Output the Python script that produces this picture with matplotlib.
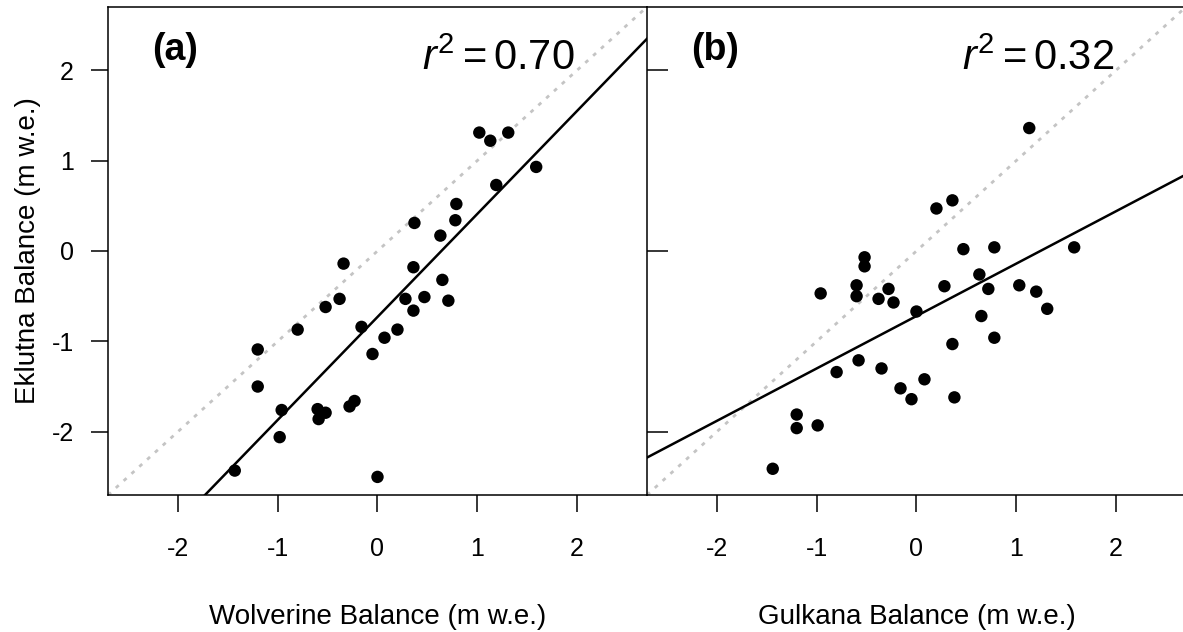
import matplotlib
matplotlib.use('Agg')
import matplotlib.pyplot as plt

plt.rcParams.update({
    'font.family': 'Liberation Sans',
    'mathtext.fontset': 'custom',
    'mathtext.rm': 'Liberation Sans',
    'mathtext.it': 'Liberation Sans:italic',
    'axes.linewidth': 1.1,
    'axes.unicode_minus': False,
})

# Panel (a): Wolverine vs Eklutna annual balance (m w.e.)
wolverine = [1.02, 1.13, 1.31, 1.59, 1.19, 0.79, 0.78, 0.37, 0.63, -0.34,
             0.36, 0.65, -0.38, -0.52, 0.28, 0.47, 0.71, 0.36, -0.80, -0.16,
             0.20, 0.07, -1.20, -0.05, -1.20, -0.96, -0.60, -0.59, -0.52, -0.28,
             -0.23, -0.98, -1.43, 0.00]
eklutna_a = [1.31, 1.22, 1.31, 0.93, 0.73, 0.52, 0.34, 0.31, 0.17, -0.14,
             -0.18, -0.32, -0.53, -0.62, -0.53, -0.51, -0.55, -0.66, -0.87, -0.84,
             -0.87, -0.96, -1.09, -1.14, -1.50, -1.76, -1.75, -1.86, -1.79, -1.72,
             -1.66, -2.06, -2.43, -2.50]

# Panel (b): Gulkana vs Eklutna annual balance (m w.e.)
gulkana = [1.13, 0.20, 0.36, 0.47, 0.78, 1.58, -0.52, -0.52, -0.96, -0.60,
           -0.60, -0.38, -0.28, -0.23, 0.00, 0.28, 0.63, 0.72, 1.03, 1.20,
           1.31, 0.65, 0.78, 0.36, -0.80, -0.58, -0.35, 0.08, -0.16, -0.05,
           0.38, -1.20, -1.20, -0.99, -1.44]
eklutna_b = [1.36, 0.47, 0.56, 0.02, 0.04, 0.04, -0.07, -0.17, -0.47, -0.38,
             -0.50, -0.53, -0.42, -0.57, -0.67, -0.39, -0.26, -0.42, -0.38, -0.45,
             -0.64, -0.72, -0.96, -1.03, -1.34, -1.21, -1.30, -1.42, -1.52, -1.64,
             -1.62, -1.81, -1.96, -1.93, -2.41]

# least-squares fits (slope, intercept) and r^2
fit_a = [1.14, -0.73]
fit_b = [0.58, -0.72]
r2_a = 0.70
r2_b = 0.32

xticks = [-2, -1, 0, 1, 2]
yticks = [-2, -1, 0, 1, 2]
lims = (-2.7, 2.7)

fig = plt.figure(figsize=(11.83, 6.32), dpi=100)
ax_a = fig.add_axes([0.0913, 0.2168, 0.4556, 0.7722])
ax_b = fig.add_axes([0.5469, 0.2168, 0.4556, 0.7722])

panels = [
    (ax_a, wolverine, eklutna_a, fit_a, r2_a, '(a)', 'Wolverine Balance (m w.e.)'),
    (ax_b, gulkana, eklutna_b, fit_b, r2_b, '(b)', 'Gulkana Balance (m w.e.)'),
]

for ax, xs, ys, fit, r2, tag, xlabel in panels:
    ax.set_xlim(lims)
    ax.set_ylim(lims)
    # 1:1 reference and regression line
    ax.axline((0, 0), slope=1, color='#c4c4c4', lw=2.0,
              linestyle=(0, (1.4, 2.4)), zorder=1)
    ax.axline((0, fit[1]), slope=fit[0], color='black', lw=1.8, zorder=2)
    ax.scatter(xs, ys, s=80, color='black', edgecolors='none', zorder=3)

    ax.text(-2.26, 2.22, tag, fontsize=27, fontweight='bold',
            ha='left', va='center')
    ax.text(1.98, 2.0, rf'$r^2 = {r2:.2f}$', fontsize=30,
            ha='right', va='baseline')

    ax.set_xticks(xticks)
    ax.tick_params(axis='x', direction='out', length=12.5, width=1.1,
                   pad=18, labelsize=18)
    ax.set_xlabel(xlabel, fontsize=20, labelpad=31)
    ax.spines['right'].set_visible(False)

ax_a.set_yticks(yticks)
ax_a.tick_params(axis='y', direction='out', length=12.5, width=1.1,
                 pad=12, labelsize=18)
ax_a.set_ylabel('Eklutna Balance (m w.e.)', fontsize=20, labelpad=8)

ax_b.set_yticks([-2, 0, 2])
ax_b.tick_params(axis='y', direction='in', length=15, width=1.1,
                 labelleft=False)

fig.savefig('out.png', dpi=100)
